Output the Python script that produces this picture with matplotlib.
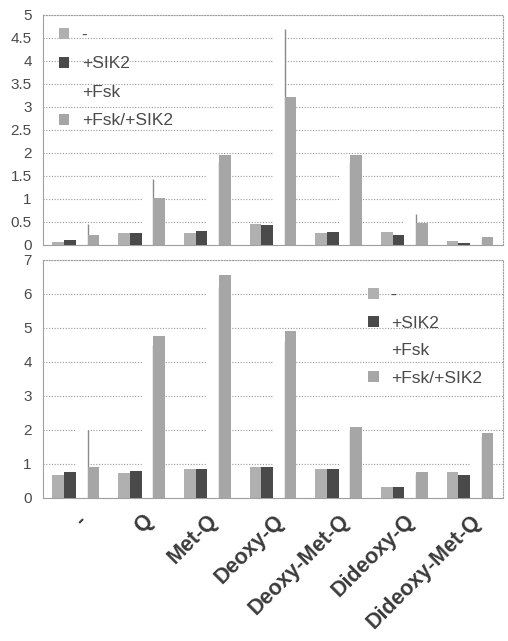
import matplotlib
matplotlib.use("Agg")
import matplotlib.pyplot as plt
import matplotlib.transforms as mtransforms
import numpy as np

plt.rcParams['font.family'] = ['Liberation Sans', 'DejaVu Sans']

categories = ['-', 'Q', 'Met-Q', 'Deoxy-Q', 'Deoxy-Met-Q', 'Dideoxy-Q', 'Dideoxy-Met-Q']
series_names = ['-', '+SIK2', '+Fsk', '+Fsk/+SIK2']

# top panel
top_base = [0.07, 0.27, 0.27, 0.45, 0.26, 0.28, 0.08]
top_sik2 = [0.10, 0.27, 0.30, 0.43, 0.28, 0.22, 0.05]
top_fsk = [0.46, 1.43, 1.80, 4.70, 1.80, 0.68, 0.15]
top_fsk_sik2 = [0.22, 1.02, 1.95, 3.22, 1.96, 0.47, 0.18]

# bottom panel
bot_base = [0.68, 0.73, 0.86, 0.92, 0.84, 0.32, 0.75]
bot_sik2 = [0.77, 0.79, 0.86, 0.91, 0.86, 0.33, 0.69]
bot_fsk = [2.00, 4.50, 6.20, 4.60, 2.00, 0.70, 1.80]
bot_fsk_sik2 = [0.92, 4.75, 6.55, 4.90, 2.08, 0.75, 1.92]

top_yticks = [0, 0.5, 1, 1.5, 2, 2.5, 3, 3.5, 4, 4.5, 5]
top_yticklabels = ['0', '0.5', '1', '1.5', '2', '2.5', '3', '3.5', '4', '4.5', '5']
bot_yticks = [0, 1, 2, 3, 4, 5, 6, 7]
bot_yticklabels = ['0', '1', '2', '3', '4', '5', '6', '7']

colors = ['#b0b0b0', '#4a4a4a', '#ffffff', '#a6a6a6']
text_col = '#4a4a4a'

fig = plt.figure(figsize=(5.08, 6.41), dpi=100)
ax1 = fig.add_axes([0.0846, 0.6178, 0.9054, 0.3588])
ax2 = fig.add_axes([0.0846, 0.2231, 0.9054, 0.3713])

x = np.arange(len(categories))
w = 0.178
offsets = [-1.5 * w, -0.5 * w, 0.5 * w, 1.5 * w]


def draw(ax, series, yticks, ylabels, ymax, legend_anchor, lspace):
    ax.set_axisbelow(True)
    handles = []
    for i, (vals, col) in enumerate(zip(series, colors)):
        z = 3 if i != 2 else 2
        b = ax.bar(x + offsets[i], vals, w, color=col, edgecolor='none',
                   zorder=z, label=series_names[i])
        handles.append(b)
        if i == 2:
            ax.vlines(x + offsets[i] + w / 2, 0, vals, color='#8a8a8a',
                      lw=1.0, zorder=2.5)
    ax.set_xlim(-0.5, len(categories) - 0.5)
    ax.set_ylim(0, ymax)
    ax.set_yticks(yticks)
    ax.set_yticklabels(ylabels, fontsize=11, color=text_col)
    ax.yaxis.grid(True, linestyle=(0, (1, 1.5)), color='#9a9a9a', lw=0.8)
    ax.tick_params(axis='both', length=0, pad=8)
    for s in ax.spines.values():
        s.set_color('#a0a0a0')
        s.set_linewidth(0.8)
    ax.spines['top'].set_linestyle((0, (1, 1.5)))
    ax.spines['right'].set_linestyle((0, (1, 1.5)))
    leg = ax.legend(handles=handles, loc='upper left', bbox_to_anchor=legend_anchor,
                    frameon=False, fontsize=12.5, handlelength=0.6, handleheight=0.6,
                    handletextpad=0.7, labelspacing=lspace, borderaxespad=0,
                    borderpad=0)
    for t in leg.get_texts():
        t.set_color(text_col)
    return ax


draw(ax1, [top_base, top_sik2, top_fsk, top_fsk_sik2], top_yticks, top_yticklabels,
     5, (0.035, 0.945), 0.78)
ax1.set_xticks([])

draw(ax2, [bot_base, bot_sik2, bot_fsk, bot_fsk_sik2], bot_yticks, bot_yticklabels,
     7, (0.707, 0.882), 0.72)
ax2.set_xticks(x)
ax2.tick_params(axis='x', pad=9)
offset = mtransforms.ScaledTranslation(0 / 100, 0, fig.dpi_scale_trans)
ax2.set_xticklabels(categories, rotation=45, ha='right', rotation_mode='anchor',
                    fontsize=15.5, fontweight='bold', color='#3a3a3a')
for lab in ax2.get_xticklabels():
    lab.set_transform(lab.get_transform() + offset)

fig.savefig('out.png', dpi=100)
